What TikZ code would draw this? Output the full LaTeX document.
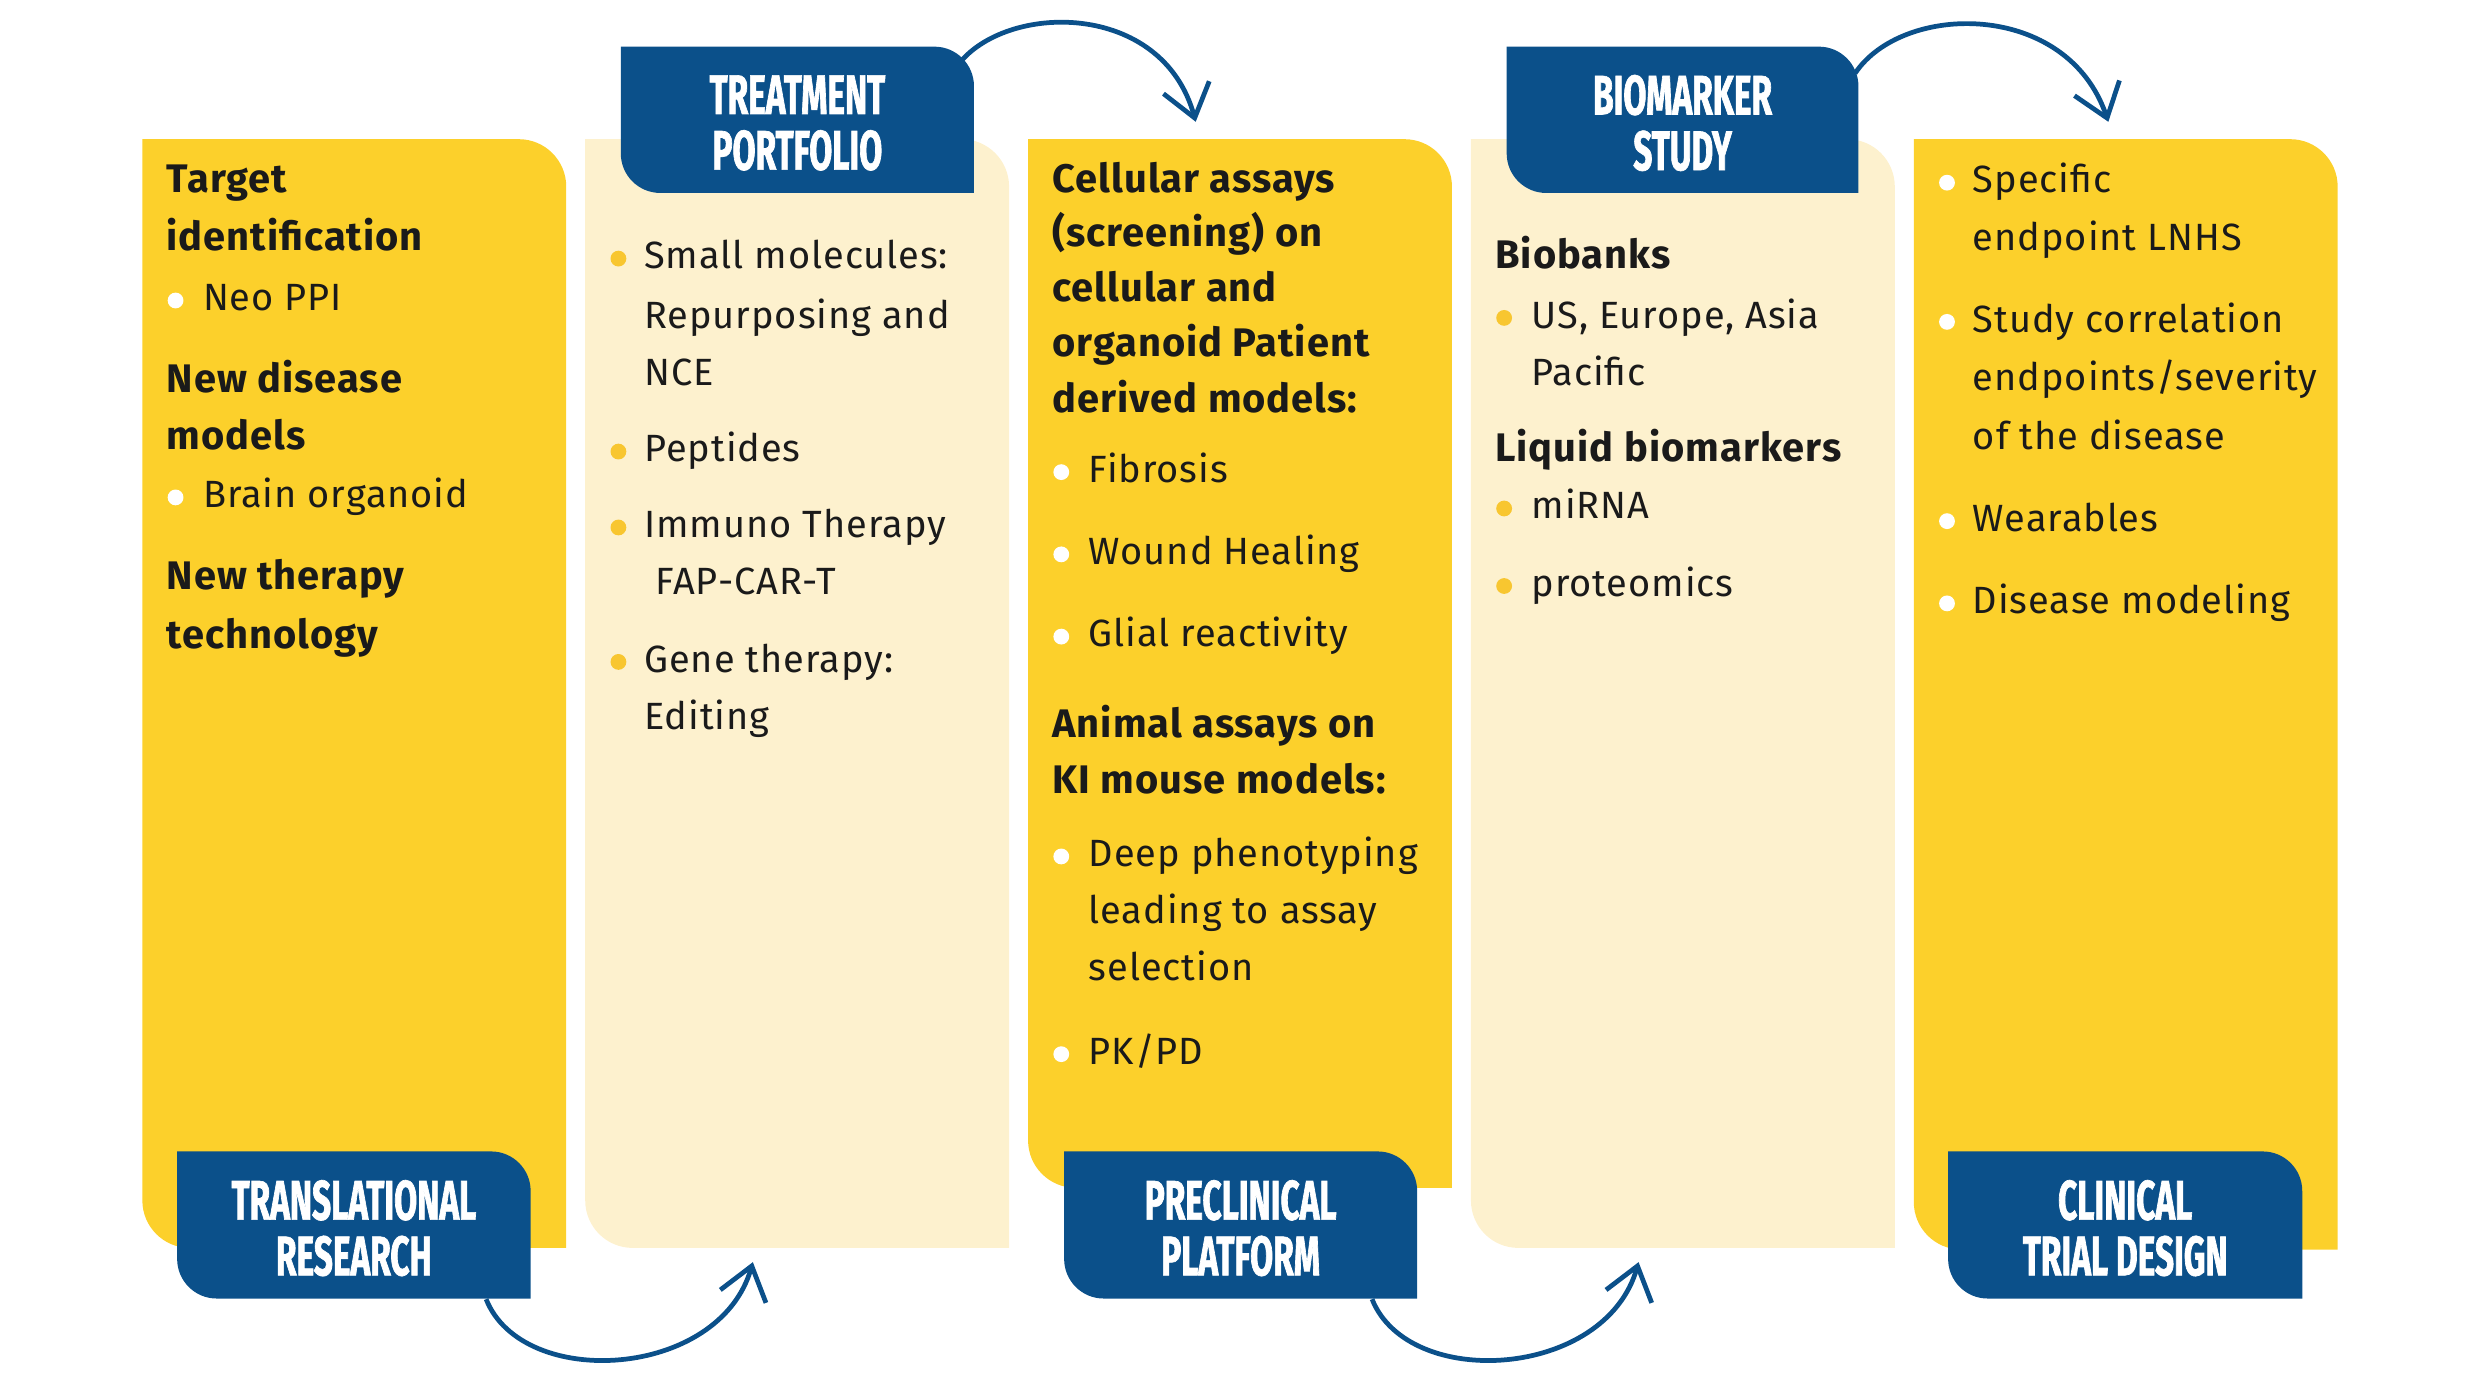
\documentclass[tikz,border=0pt]{standalone}
\usepackage{fontspec}
\usetikzlibrary{arrows.meta,calc}
\newfontfamily\bodyfont{Fira Sans}[LetterSpace=2.5]
\newfontfamily\tagfont{Fira Sans}[FakeStretch=0.6,FakeBold=1.2]
\definecolor{gold}{HTML}{FCD02B}
\definecolor{cream}{HTML}{FDF1CE}
\definecolor{navy}{HTML}{0B508A}
\definecolor{ink}{HTML}{1A1A1A}
\definecolor{dotgold}{HTML}{F8C630}
% box with rounded top right and bottom left corners (y grows downward)
\newcommand{\cornerbox}[6]{%
  \fill[#1] (#2,-#3) -- ({#4-#6},-#3) arc[start angle=90,end angle=0,radius=#6]
    -- (#4,-#5) -- ({#2+#6},-#5) arc[start angle=270,end angle=180,radius=#6] -- cycle;}
\tikzset{
  txt/.style={anchor=base west, inner sep=0pt, text=ink, font=\bodyfont\fontsize{12}{14}\selectfont},
  head/.style={txt, font=\bodyfont\bfseries\fontsize{12.6}{14}\selectfont},
  tag/.style={text=white, align=center, inner sep=0pt, minimum width=111.7pt, minimum height=46.5pt,
    font=\tagfont\bfseries\fontsize{17.6}{17.6}\selectfont},
  flow/.style={draw=navy, line width=1.5pt, -{Straight Barb[length=10pt,width=15pt]}}
}
\begin{document}
\begin{tikzpicture}[x=0.5pt,y=0.5pt]
  \useasboundingbox (0,0) rectangle (1568,-882);
  %Columns
  \cornerbox{gold}{90}{88}{358}{789}{30}
  \cornerbox{cream}{370}{88}{638}{789}{30}
  \cornerbox{gold}{650}{88}{918}{751}{30}
  \cornerbox{cream}{930}{88}{1198}{789}{30}
  \cornerbox{gold}{1210}{88}{1478}{790}{30}
  %Labels
  \cornerbox{navy}{112}{728}{335.5}{821}{25}
  \cornerbox{navy}{392.5}{29.5}{615.8}{122}{25}
  \cornerbox{navy}{672.8}{728}{896}{821}{25}
  \cornerbox{navy}{952.6}{29.5}{1175}{122}{25}
  \cornerbox{navy}{1231.7}{728}{1455.6}{821}{25}
  \node[tag] (transl) at (223.75,-776.5) {TRANSLATIONAL\\RESEARCH};
  \node[tag] (portf) at (504.15,-77.75) {TREATMENT\\PORTFOLIO};
  \node[tag] (precl) at (784.4,-776.5) {PRECLINICAL\\PLATFORM};
  \node[tag] (biom) at (1063.8,-77.75) {BIOMARKER\\STUDY};
  \node[tag] (clin) at (1343.65,-776.5) {CLINICAL\\TRIAL DESIGN};
  %Arrows
  \coordinate (c2foot) at (476,-798);
  \coordinate (c3top) at (756,-77);
  \coordinate (c4foot) at (1036,-798);
  \coordinate (c5top) at (1333,-77);
  \draw[flow] ($(transl.south east)+(-28.5,2)$) .. controls +(23,-58) and +(-21,-74) .. (c2foot);
  \draw[flow] ($(portf.north east)+(-10.8,-10.5)$) .. controls +(30,40) and +(-21,77) .. (c3top);
  \draw[flow] ($(precl.south east)+(-29,2)$) .. controls +(23,-58) and +(-21,-74) .. (c4foot);
  \draw[flow] ($(biom.north east)+(-3,-15.5)$) .. controls +(30,45) and +(-26,77) .. (c5top);
  %Column 1
  \node[head] (target) at (105,-122) {Target};
  \node[head] (identif) at (105,-158.5) {identification};
  \fill[white] (111,-190) circle (5);
  \node[txt] (neoppi) at (128,-196.4) {Neo PPI};
  \node[head] (newdis) at (105,-248) {New disease};
  \node[head] (models) at (105,-284) {models};
  \fill[white] (111,-314.5) circle (5);
  \node[txt] (brain) at (128,-321) {Brain organoid};
  \node[head] (newther) at (105,-373) {New therapy};
  \node[head] (techno) at (105,-410) {technology};
  %Column 2
  \fill[dotgold] (391,-163.5) circle (5);
  \node[txt] (smallmol) at (407,-170) {Small molecules:};
  \node[txt] (repurp) at (407,-207.6) {Repurposing and};
  \node[txt] (nce) at (407,-244) {NCE};
  \fill[dotgold] (391,-285.5) circle (5);
  \node[txt] (peptides) at (407,-292) {Peptides};
  \fill[dotgold] (391,-333.5) circle (5);
  \node[txt] (immuno) at (407,-340) {Immuno Therapy};
  \node[txt] (fapcar) at (414,-376) {FAP-CAR-T};
  \fill[dotgold] (391,-418.5) circle (5);
  \node[txt] (genether) at (407,-425) {Gene therapy:};
  \node[txt] (editing) at (407,-461) {Editing};
  %Column 3
  \node[head] (cellass) at (665,-122) {Cellular assays};
  \node[head] (screen) at (665,-156) {(screening) on};
  \node[head] (cellular) at (665,-190.7) {cellular and};
  \node[head] (organoid) at (665,-225.5) {organoid Patient};
  \node[head] (derived) at (665,-261) {derived models:};
  \fill[white] (671,-298.5) circle (5);
  \node[txt] (fibrosis) at (688,-305) {Fibrosis};
  \fill[white] (671,-350.5) circle (5);
  \node[txt] (wound) at (688,-357) {Wound Healing};
  \fill[white] (671,-402.5) circle (5);
  \node[txt] (glial) at (688,-409) {Glial reactivity};
  \node[head] (animal) at (665,-466) {Animal assays on};
  \node[head] (kimouse) at (665,-502) {KI mouse models:};
  \fill[white] (671,-541.5) circle (5);
  \node[txt] (deep) at (688,-548) {Deep phenotyping};
  \node[txt] (leading) at (688,-584) {leading to assay};
  \node[txt] (select) at (688,-620) {selection};
  \fill[white] (671,-666.5) circle (5);
  \node[txt] (pkpd) at (688,-673) {PK/PD};
  %Column 4
  \node[head] (biobanks) at (945,-169.6) {Biobanks};
  \fill[dotgold] (951,-201) circle (5);
  \node[txt] (useu) at (968,-207.6) {US, Europe, Asia};
  \node[txt] (pacific) at (968,-243.5) {Pacific};
  \node[head] (liquid) at (945,-292) {Liquid biomarkers};
  \fill[dotgold] (951,-321.5) circle (5);
  \node[txt] (mirna) at (968,-328) {miRNA};
  \fill[dotgold] (951,-370.5) circle (5);
  \node[txt] (proteo) at (968,-377) {proteomics};
  %Column 5
  \fill[white] (1231,-115.5) circle (5);
  \node[txt] (specific) at (1247,-122) {Specific};
  \node[txt] (endlnhs) at (1247,-158.5) {endpoint LNHS};
  \fill[white] (1231,-203.5) circle (5);
  \node[txt] (studycor) at (1247,-210) {Study correlation};
  \node[txt] (endsev) at (1247,-247) {endpoints/severity};
  \node[txt] (ofdis) at (1247,-284) {of the disease};
  \fill[white] (1231,-329.5) circle (5);
  \node[txt] (wear) at (1247,-336) {Wearables};
  \fill[white] (1231,-381.5) circle (5);
  \node[txt] (dismod) at (1247,-388) {Disease modeling};
\end{tikzpicture}
\end{document}
